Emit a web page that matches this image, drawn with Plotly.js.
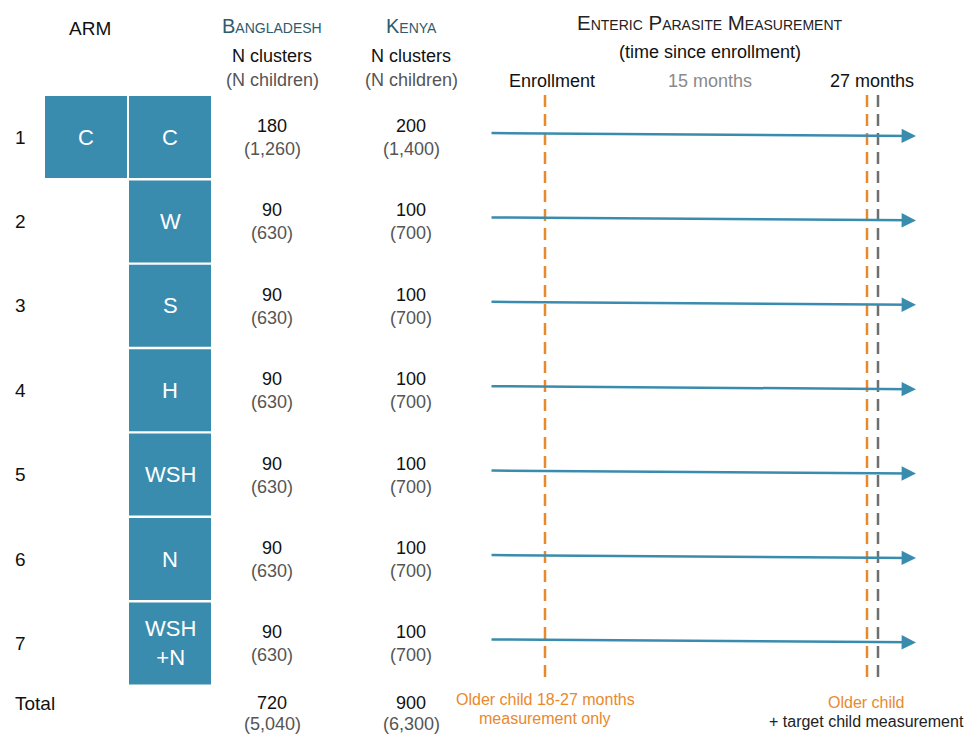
<!DOCTYPE html>
<html>
<head>
<meta charset="utf-8">
<script src="https://cdn.plot.ly/plotly-3.0.1.min.js"></script>
<style>html,body{margin:0;padding:0;background:#fff;}#chart{width:971px;height:735px;}</style>
</head>
<body>
<div id="chart"></div>
<script>
// ---- data ----
const armNumbers = ['1', '2', '3', '4', '5', '6', '7'];
const armLabels = ['C', 'W', 'S', 'H', 'WSH', 'N', 'WSH<br>+N'];
const controlLabel = 'C';
const bangladeshClusters = [180, 90, 90, 90, 90, 90, 90];
const bangladeshChildren = [1260, 630, 630, 630, 630, 630, 630];
const kenyaClusters = [200, 100, 100, 100, 100, 100, 100];
const kenyaChildren = [1400, 700, 700, 700, 700, 700, 700];
const totalBangladesh = [720, 5040];
const totalKenya = [900, 6300];
const timeLabels = ['Enrollment', '15 months', '27 months'];
const countryLabels = ['Bangladesh', 'Kenya'];

// ---- layout constants ----
const FONT = 'Liberation Sans, Arial, sans-serif';
const TEAL = '#3a8cae';
const ORANGE = '#e8892e';
const GREY = '#6f6f6f';
const rowTop = 96, rowPitch = 84.4, boxH = 82;
const col1 = [45, 127], col2 = [129, 211];
const xNum = 20, xBgd = 272, xKen = 411;
const arrowX0 = 490, arrowX1 = 916;
const timeX = [552, 710, 872];
const lineX = [545, 867, 878];

const fmt = n => n.toLocaleString('en-US');
const shapes = [];
const ann = [];
const A = (x, y, text, size, color, extra) => Object.assign({
  x: x, y: y, xref: 'x', yref: 'y', text: text, showarrow: false,
  font: {family: FONT, size: size, color: color || '#111'},
  xanchor: 'center', yanchor: 'middle'
}, extra || {});
const SC = (x, y, text, size, color) => A(x, y, text, size, color,
  {font: {family: FONT, size: size, color: color, variant: 'small-caps'}});

// headers
ann.push(A(90, 28, 'ARM', 19));
ann.push(SC(xBgd, 26, countryLabels[0], 20, '#2f5b6e'));
ann.push(SC(xKen, 26, countryLabels[1], 20, '#2f5b6e'));
[xBgd, xKen].forEach(x => {
  ann.push(A(x, 56, 'N clusters', 18, '#111'));
  ann.push(A(x, 80, '(N children)', 18, '#555'));
});
ann.push(SC(710, 22, 'Enteric Parasite Measurement', 20.5, '#222'));
ann.push(A(710, 52, '(time since enrollment)', 18, '#111'));
const timeColors = ['#111', '#8a8a8a', '#111'];
timeLabels.forEach((t, i) => ann.push(A(timeX[i], 81, t, 18, timeColors[i])));

// control box (column 1, row 1)
shapes.push({type: 'rect', xref: 'x', yref: 'y', x0: col1[0], x1: col1[1], y0: rowTop, y1: rowTop + boxH,
  fillcolor: TEAL, line: {width: 0}, layer: 'below'});
ann.push(A((col1[0] + col1[1]) / 2, rowTop + boxH / 2, controlLabel, 22, '#fff'));

// rows
armNumbers.forEach((n, i) => {
  const y0 = rowTop + i * rowPitch, yc = y0 + boxH / 2;
  shapes.push({type: 'rect', xref: 'x', yref: 'y', x0: col2[0], x1: col2[1], y0: y0, y1: y0 + boxH,
    fillcolor: TEAL, line: {width: 0}, layer: 'below'});
  ann.push(A((col2[0] + col2[1]) / 2, yc, armLabels[i], 22, '#fff'));
  ann.push(A(xNum, yc, n, 19, '#111'));
  ann.push(A(xBgd, yc - 11, String(bangladeshClusters[i]), 18, '#111'));
  ann.push(A(xBgd, yc + 12, '(' + fmt(bangladeshChildren[i]) + ')', 18, '#555'));
  ann.push(A(xKen, yc - 11, String(kenyaClusters[i]), 18, '#111'));
  ann.push(A(xKen, yc + 12, '(' + fmt(kenyaChildren[i]) + ')', 18, '#555'));
  // arrow
  ann.push({x: arrowX1, y: yc - 1, ax: arrowX0, ay: yc - 4, xref: 'x', yref: 'y', axref: 'x', ayref: 'y',
    text: '', showarrow: true, arrowhead: 2, arrowsize: 1.15, arrowwidth: 2.5, arrowcolor: TEAL});
});

// totals
ann.push(A(35, 703, 'Total', 19, '#111'));
ann.push(A(xBgd, 703, String(totalBangladesh[0]), 18, '#111'));
ann.push(A(xBgd, 724, '(' + fmt(totalBangladesh[1]) + ')', 18, '#555'));
ann.push(A(xKen, 703, String(totalKenya[0]), 18, '#111'));
ann.push(A(xKen, 724, '(' + fmt(totalKenya[1]) + ')', 18, '#555'));

// dashed measurement lines
const lineColors = [ORANGE, ORANGE, GREY];
lineX.forEach((x, i) => shapes.push({type: 'line', xref: 'x', yref: 'y', x0: x, x1: x, y0: 95, y1: 681,
  line: {color: lineColors[i], width: 2.5, dash: '12px,7px'}}));

// bottom notes
ann.push(A(545, 699, 'Older child 18-27 months', 16, ORANGE));
ann.push(A(545, 718, 'measurement only', 16, ORANGE));
ann.push(A(866, 702, 'Older child', 16, ORANGE));
ann.push(A(866, 721, '+ target child measurement', 16, '#222'));

const layout = {
  width: 971, height: 735,
  margin: {l: 0, r: 0, t: 0, b: 0},
  paper_bgcolor: '#fff', plot_bgcolor: '#fff',
  xaxis: {range: [0, 971], visible: false, fixedrange: true},
  yaxis: {range: [735, 0], visible: false, fixedrange: true},
  showlegend: false,
  shapes: shapes,
  annotations: ann
};
Plotly.newPlot('chart', [], layout, {staticPlot: true});
</script>
</body>
</html>
